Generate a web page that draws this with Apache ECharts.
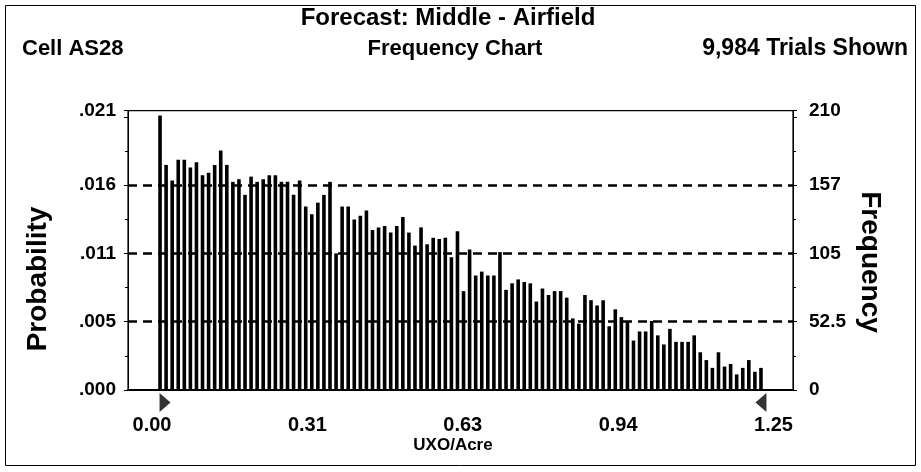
<!DOCTYPE html>
<html>
<head>
<meta charset="utf-8">
<script src="https://cdn.jsdelivr.net/npm/echarts@6/dist/echarts.min.js"></script>
<style>
html,body{margin:0;padding:0;background:#fff;}
#chart{width:921px;height:472px;}
</style>
</head>
<body>
<div id="chart"></div>
<script>
// ---- data ----
const frequency = [
  211, 173, 161, 177, 177, 171, 175, 165, 167, 173, 184, 173, 160, 162, 150, 164, 160, 162, 165, 165, 160, 160, 150, 161,
  141, 135, 144, 150, 160, 105, 141, 141, 131, 134, 138, 123, 125, 126, 121, 126, 133, 121, 111, 125, 112, 117, 116, 117, 102, 122,
  76, 108, 88, 91, 88, 88, 106, 77, 82, 85, 83, 82, 68, 78, 73, 76, 76, 71, 55, 51, 73, 69, 65, 69, 49,
  62, 56, 53, 38, 45, 45, 53, 42, 35, 47, 37, 37, 37, 42, 29, 23, 17, 29, 18, 20, 12, 17, 23, 14, 17
];
const categories = frequency.map((_, i) => 'bin' + (i + 1));
const freqTicks = [0, 52.5, 105, 157.5];
const probTickLabels = ['.000', '.005', '.011', '.016', '.021'];
const freqTickLabels = ['0', '52.5', '105', '157', '210'];
const xTickValues = [0, 0.3125, 0.625, 0.9375, 1.25];
const xTickLabels = ['0.00', '0.31', '0.63', '0.94', '1.25'];
const certaintyEnds = [0, frequency.length - 1];

// ---- layout ----
const FONT = '"Liberation Sans", Arial, sans-serif';
const boxL = 128, boxR = 793, boxT = 110.7, boxB = 390;
const H = 472, Wd = 921;
const pxPerUnit = 1.301;
const yMax = (boxB - boxT) / pxPerUnit;
const barL = 157, barR = 764;
const lblL = 152, lblR = 773.5;

// top label sits at the top of the frame
function yLabel(v, labels) {
  for (let i = 0; i < freqTicks.length; i++) if (Math.abs(v - freqTicks[i]) < 0.01) return labels[i];
  if (Math.abs(v - yMax) < 0.01) return labels[labels.length - 1];
  return '';
}
function xLabel(v) {
  for (let i = 0; i < xTickValues.length; i++) if (Math.abs(v - xTickValues[i]) < 0.001) return xTickLabels[i];
  return '';
}

const chart = echarts.init(document.getElementById('chart'), null, {renderer: 'canvas'});
const tickLabelStyle = {color: '#000', fontFamily: FONT, fontWeight: 'bold', fontSize: 19};

const option = {
  animation: false,
  backgroundColor: '#fff',
  grid: [
    {left: barL, right: Wd - barR, top: boxT, bottom: H - boxB, outerBoundsMode: 'none', containLabel: false},
    {left: lblL, right: Wd - lblR, top: boxT, bottom: H - boxB, outerBoundsMode: 'none', containLabel: false},
    {left: boxL, right: Wd - boxR, top: boxB - 157.5 * pxPerUnit, bottom: H - boxB, outerBoundsMode: 'none', containLabel: false}
  ],
  xAxis: [
    {gridIndex: 0, type: 'category', data: categories, boundaryGap: true,
     axisLine: {show: false}, axisTick: {show: false}, axisLabel: {show: false}, splitLine: {show: false}},
    {gridIndex: 1, type: 'value', min: 0, max: 1.25, interval: 0.3125,
     axisLine: {show: false}, axisTick: {show: false}, splitLine: {show: false},
     axisLabel: Object.assign({margin: 25, formatter: xLabel}, tickLabelStyle, {fontSize: 20})},
    {gridIndex: 2, type: 'value', min: 0, max: 1,
     axisLine: {show: true, lineStyle: {color: '#000', width: 2}}, axisTick: {show: false},
     axisLabel: {show: false}, splitLine: {show: false}}
  ],
  yAxis: [
    {gridIndex: 0, type: 'value', position: 'left', offset: barL - boxL, min: 0, max: yMax, interval: 52.5,
     axisLine: {show: true, lineStyle: {color: '#000', width: 1}},
     axisTick: {show: true, length: 4, lineStyle: {color: '#000'}},
     minorTick: {show: true, splitNumber: 2, length: 3, lineStyle: {color: '#000'}},
     splitLine: {show: false},
     axisLabel: Object.assign({margin: 12, showMaxLabel: true, formatter: v => yLabel(v, probTickLabels)}, tickLabelStyle)},
    {gridIndex: 0, type: 'value', position: 'right', offset: boxR - barR, min: 0, max: yMax, interval: 52.5,
     axisLine: {show: true, lineStyle: {color: '#000', width: 1}},
     axisTick: {show: true, length: 4, lineStyle: {color: '#000'}},
     minorTick: {show: true, splitNumber: 2, length: 3, lineStyle: {color: '#000'}},
     splitLine: {show: false},
     axisLabel: Object.assign({margin: 16, showMaxLabel: true, formatter: v => yLabel(v, freqTickLabels)}, tickLabelStyle)},
    {gridIndex: 1, type: 'value', min: 0, max: 1, show: false},
    {gridIndex: 2, type: 'value', min: 0, max: 157.5, interval: 52.5,
     axisLine: {show: false}, axisTick: {show: false}, axisLabel: {show: false},
     splitLine: {show: true, showMinLine: false, lineStyle: {color: '#000', width: 2.5, type: [9, 6]}}}
  ],
  series: [
    {type: 'bar', xAxisIndex: 0, yAxisIndex: 0, data: frequency, barWidth: 3.6,
     itemStyle: {color: '#000'}, z: 3},
    {type: 'scatter', xAxisIndex: 0, yAxisIndex: 0, clip: false, z: 4,
     data: [
       {value: [certaintyEnds[0], 0], symbol: 'path://M0,0L10,6L0,12Z', symbolOffset: [5, 12.5]},
       {value: [certaintyEnds[1], 0], symbol: 'path://M10,0L0,6L10,12Z', symbolOffset: [0, 12.5]}
     ],
     symbolSize: [11, 19], itemStyle: {color: '#000'}}
  ],
  graphic: [
    {type: 'rect', shape: {x: 5.5, y: 5.5, width: 910, height: 460}, style: {fill: 'none', stroke: '#000', lineWidth: 1}, silent: true},
    {type: 'rect', shape: {x: boxL, y: boxT, width: boxR - boxL, height: boxB - boxT}, style: {fill: 'none', stroke: '#000', lineWidth: 1.2}, silent: true, z: 10},
    {type: 'text', x: 448, y: 18, style: {text: 'Forecast: Middle - Airfield', fill: '#000', font: 'bold 24px ' + FONT, textAlign: 'center', textVerticalAlign: 'middle'}},
    {type: 'text', x: 22, y: 49, style: {text: 'Cell AS28', fill: '#000', font: 'bold 22px ' + FONT, textAlign: 'left', textVerticalAlign: 'middle'}},
    {type: 'text', x: 455, y: 49, style: {text: 'Frequency Chart', fill: '#000', font: 'bold 22px ' + FONT, textAlign: 'center', textVerticalAlign: 'middle'}},
    {type: 'text', x: 908, y: 49, style: {text: '9,984 Trials Shown', fill: '#000', font: 'bold 23px ' + FONT, textAlign: 'right', textVerticalAlign: 'middle'}},
    {type: 'text', x: 453, y: 445, style: {text: 'UXO/Acre', fill: '#000', font: 'bold 17px ' + FONT, textAlign: 'center', textVerticalAlign: 'middle'}},
    {type: 'text', x: 38, y: 279, rotation: Math.PI / 2, style: {text: 'Probability', fill: '#000', font: 'bold 28px ' + FONT, textAlign: 'center', textVerticalAlign: 'middle'}},
    {type: 'text', x: 870, y: 262, rotation: -Math.PI / 2, style: {text: 'Frequency', fill: '#000', font: 'bold 28px ' + FONT, textAlign: 'center', textVerticalAlign: 'middle'}}
  ]
};
chart.setOption(option);
</script>
</body>
</html>
